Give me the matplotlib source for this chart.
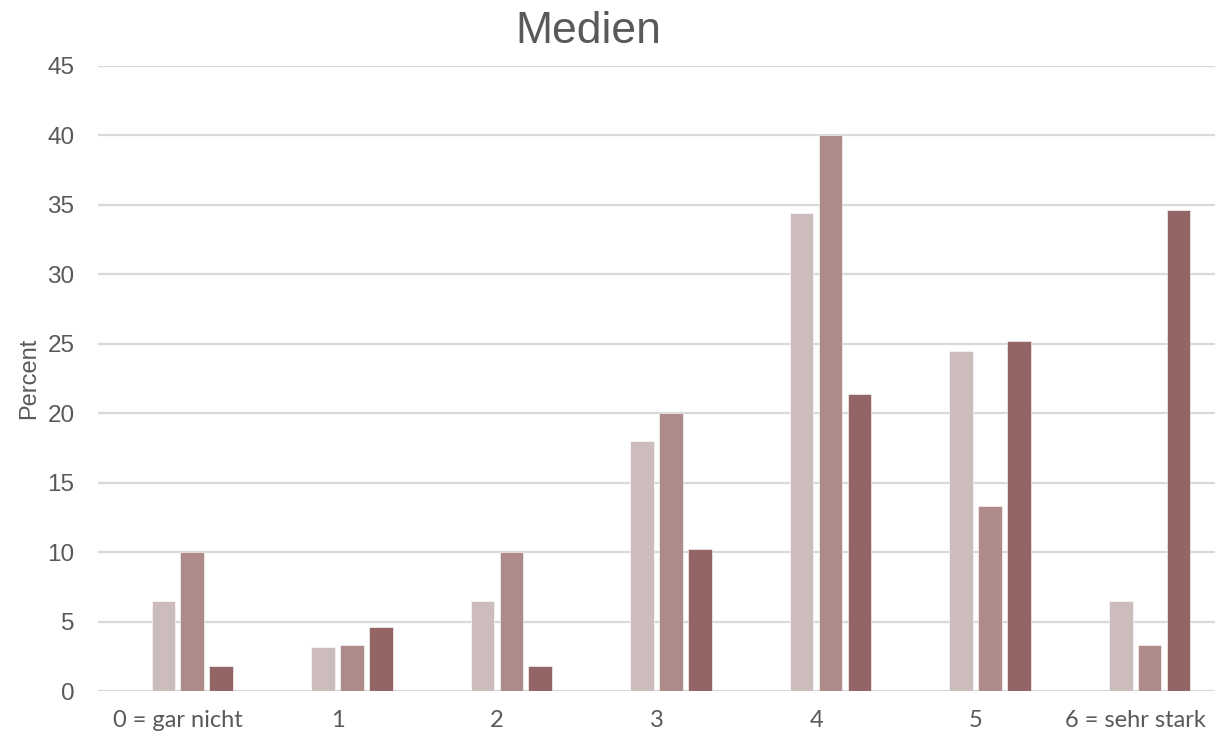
import numpy as np
import matplotlib
matplotlib.use("Agg")
import matplotlib.pyplot as plt

categories = ["0 = gar nicht", "1", "2", "3", "4", "5", "6 = sehr stark"]
series_a = [6.5, 3.2, 6.5, 18.0, 34.4, 24.5, 6.5]
series_b = [10.0, 3.3, 10.0, 20.0, 40.0, 13.3, 3.3]
series_c = [1.8, 4.6, 1.8, 10.2, 21.4, 25.2, 34.6]
colors = ["#CDBCBC", "#AE8A88", "#936564"]

text_grey = "#595959"
grid_grey = "#D9D9D9"


def main():
    fig = plt.figure(figsize=(12.15, 7.32), dpi=100)
    ax = fig.add_axes([0.0807, 0.056, 0.9193, 0.854])

    x = np.arange(len(categories))
    pitch = 0.181
    # four slots per group, the first one stays empty
    for i, (vals, col) in enumerate(zip([series_a, series_b, series_c], colors)):
        ax.bar(x + (i - 0.5) * pitch, vals, width=pitch * 0.82, color=col,
               edgecolor="white", linewidth=0.4, zorder=3)

    ax.set_xlim(-0.5, 6.5)
    ax.set_ylim(0, 45)
    ax.set_yticks(range(0, 46, 5))
    ax.yaxis.grid(True, color=grid_grey, linewidth=1.6, zorder=0)
    ax.set_axisbelow(True)
    for s in ax.spines.values():
        s.set_visible(False)

    ax.set_xticks(x)
    ax.set_xticklabels(categories, fontsize=17, color=text_grey, family="Lato")
    ax.tick_params(axis="both", length=0)
    ax.tick_params(axis="x", pad=14)
    ax.tick_params(axis="y", pad=17, labelsize=17.5, labelcolor=text_grey)
    for lab in ax.get_yticklabels():
        lab.set_family("Liberation Sans")

    ax.set_ylabel("Percent", fontsize=17, color=text_grey, family="Liberation Sans", labelpad=5)

    fig.text(0.484, 0.941, "Medien", fontsize=32, color=text_grey,
             family="Liberation Sans", ha="center", va="baseline")

    fig.savefig("out.png", dpi=100)


if __name__ == '__main__':
    main()
